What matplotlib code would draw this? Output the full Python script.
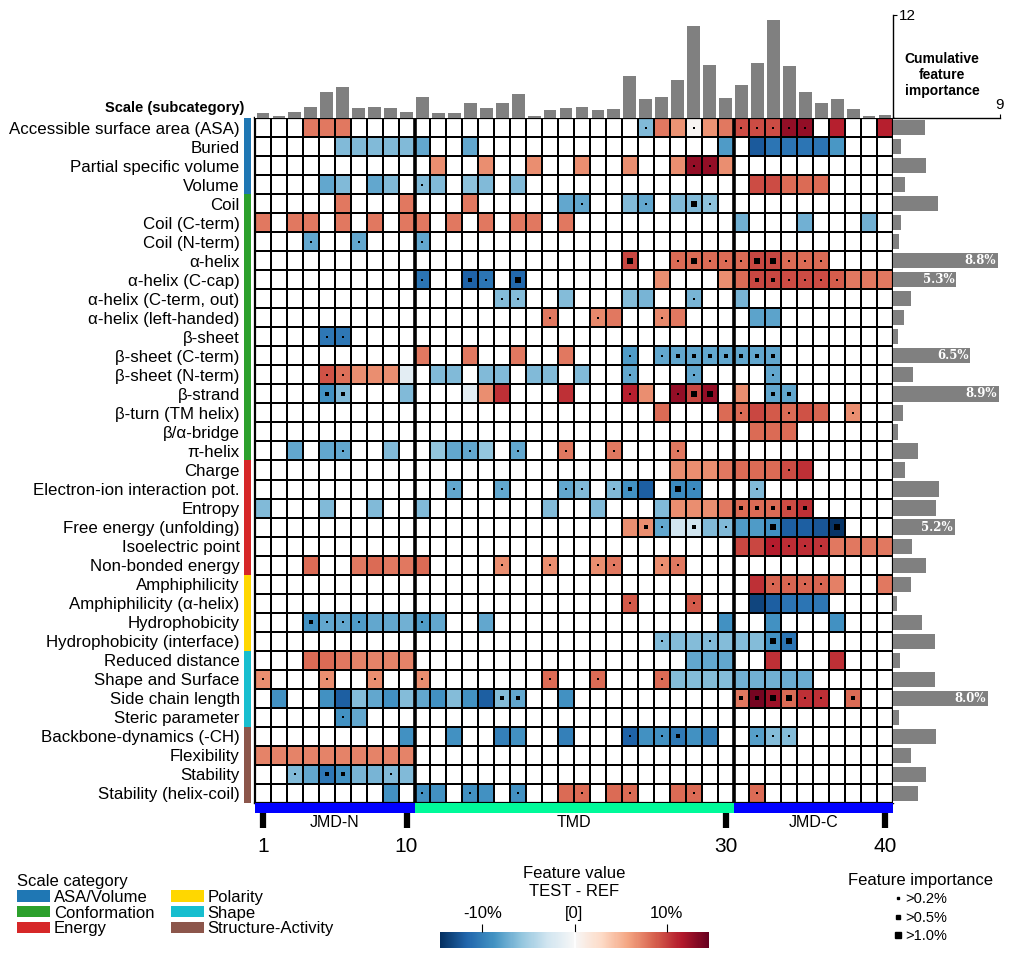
#!/usr/bin/env python3
"""
CPP feature map: feature values per scale subcategory and residue position,
with cumulative feature importance per position (top) and per scale (right).
"""

import numpy as np
import matplotlib
matplotlib.use("Agg")
import matplotlib.pyplot as plt
from matplotlib.patches import Patch
from matplotlib.lines import Line2D

plt.rcParams['font.family'] = ['Liberation Sans', 'DejaVu Sans']

# ---------------------------------------------------------------- data
scale_names = [
    "Accessible surface area (ASA)", "Buried", "Partial specific volume", "Volume",
    "Coil", "Coil (C-term)", "Coil (N-term)", "α-helix", "α-helix (C-cap)",
    "α-helix (C-term, out)", "α-helix (left-handed)", "β-sheet", "β-sheet (C-term)",
    "β-sheet (N-term)", "β-strand", "β-turn (TM helix)", "β/α-bridge", "π-helix",
    "Charge", "Electron-ion interaction pot.", "Entropy", "Free energy (unfolding)",
    "Isoelectric point", "Non-bonded energy",
    "Amphiphilicity", "Amphiphilicity (α-helix)", "Hydrophobicity", "Hydrophobicity (interface)",
    "Reduced distance", "Shape and Surface", "Side chain length", "Steric parameter",
    "Backbone-dynamics (-CH)", "Flexibility", "Stability", "Stability (helix-coil)",
]
scale_categories = (["ASA/Volume"] * 4 + ["Conformation"] * 14 + ["Energy"] * 6
                    + ["Polarity"] * 4 + ["Shape"] * 4 + ["Structure-Activity"] * 4)
category_names = ["ASA/Volume", "Conformation", "Energy", "Polarity", "Shape", "Structure-Activity"]
category_colors = ["#1f77b4", "#2ca02c", "#d62728", "#ffd700", "#17becf", "#8c564b"]

part_names = ["JMD-N", "TMD", "JMD-C"]
part_lengths = [10, 20, 10]
part_colors = ["#0000ff", "#00fa9a", "#0000ff"]
position_ticks = [1, 10, 30, 40]

# cumulative feature importance per position (%)
position_importance = [0.58, 0.23, 0.7, 1.28, 3.03, 3.6, 1.17, 1.28, 1.17, 0.7,
                       2.45, 0.58, 0.58, 1.75, 1.17, 1.75, 2.8, 0.23, 0.93, 1.17,
                       1.28, 0.93, 1.05, 4.9, 2.2, 2.45, 4.43, 10.7, 6.2, 2.33,
                       3.85, 6.4, 11.4, 6.06, 3.03, 1.75, 2.2, 1.05, 0.23, 0.35]
# cumulative feature importance per scale (%)
scale_importance = [2.7, 0.66, 2.8, 1.0, 3.77, 0.66, 0.49, 8.8, 5.3, 1.5, 0.9, 0.4,
                    6.5, 1.7, 8.9, 0.8, 0.4, 2.1, 1.0, 3.9, 3.6, 5.2, 1.6, 2.8,
                    1.5, 0.3, 2.4, 3.5, 0.57, 3.5, 8.0, 0.5, 3.6, 1.5, 2.8, 2.1]

# feature value (TEST - REF, %) per scale: {position: value}
feature_values = [
    {4: 7.7, 5: 7.7, 6: 7.7, 25: -6.5, 26: 7.7, 27: 6.6, 28: 0.3, 29: 6.6, 30: 7.7,
     31: 9.5, 32: 9.5, 33: 9.5, 34: 12.8, 35: 12.8, 37: 11.3, 40: 11.3},
    {6: -6.5, 7: -6.5, 8: -6.5, 9: -6.5, 10: -6.5, 11: -7.6, 14: -7.6, 30: -8.3,
     32: -12.3, 33: -10.7, 34: -10.7, 35: -10.7, 36: -10.7, 37: -8.5},
    {12: 6.8, 15: 6.8, 18: 6.8, 21: 6.8, 24: 6.8, 27: 6.8, 28: 12.8, 29: 12.8, 30: 6.8},
    {5: -7.6, 6: -6.5, 8: -7.6, 9: -6.5, 11: -6.5, 12: -6.5, 14: -6.0, 15: -6.5, 17: -6.5,
     32: 9.5, 33: 9.5, 34: 8.3, 35: 8.3, 36: 8.3},
    {6: 7.7, 10: 7.7, 14: 7.7, 20: -7.6, 21: -7.6, 24: -6.5, 25: -7.6, 27: -6.5, 28: -6.5, 29: -6.0},
    {1: 7.7, 3: 7.7, 4: 7.7, 6: 7.7, 8: 7.7, 10: 7.7, 11: 7.7, 13: 7.7, 15: 7.7, 17: 7.7,
     18: 7.7, 20: 7.7, 31: -7.0, 35: -7.0, 39: -7.0},
    {4: -7.6, 7: -7.6, 11: -7.6},
    {24: 9.7, 27: 8.3, 28: 8.3, 29: 8.3, 30: 8.3, 31: 8.3, 32: 9.7, 33: 9.7, 34: 8.3, 35: 8.3, 36: 8.3},
    {11: -10.7, 14: -11.8, 15: -10.7, 17: -11.5, 26: 6.8, 30: 6.8, 31: 8.3, 32: 9.7, 33: 9.7,
     34: 9.5, 35: 9.5, 36: 9.5, 37: 8.8, 38: 7.7, 39: 7.7, 40: 7.7},
    {16: -6.3, 17: -6.3, 20: -6.3, 24: -6.3, 25: -6.8, 28: -6.8, 31: -6.8},
    {19: 7.7, 22: 7.0, 23: 7.7, 26: 7.0, 27: 7.7, 32: -7.8, 33: -7.8},
    {5: -10.5, 6: -10.5},
    {11: 7.7, 14: 7.7, 17: 7.7, 20: 7.7, 24: -8.3, 26: -7.6, 27: -7.6, 28: -7.6, 29: -7.6,
     30: -7.6, 31: -7.6, 32: -7.6, 33: -7.6},
    {5: 9.3, 6: 8.0, 7: 6.8, 8: 6.8, 9: 6.8, 10: -1.5, 12: -6.5, 13: -6.5, 15: -6.5, 16: -6.5,
     18: -6.5, 19: -6.5, 21: -6.5, 24: -7.6, 28: -7.6, 33: -7.6},
    {5: -8.8, 6: -6.5, 10: -6.5, 14: -1.5, 15: 6.8, 16: 10.7, 20: 10.7, 24: 11.3, 25: 6.8,
     27: 12.8, 28: 9.7, 29: 12.8, 31: 6.8, 33: -7.6, 34: -7.6},
    {26: 8.3, 30: 8.3, 31: 8.3, 32: 9.7, 33: 9.0, 34: 8.3, 35: 9.3, 36: 8.5, 38: 6.8},
    {32: 8.3, 33: 8.3, 34: 8.3},
    {3: -7.6, 5: -7.6, 6: -7.6, 9: -6.5, 12: -5.8, 13: -7.6, 14: -7.6, 15: -5.8, 17: -7.6,
     20: 7.7, 23: 7.7, 27: 7.7},
    {27: 6.8, 28: 6.8, 29: 6.8, 30: 7.7, 31: 8.3, 32: 8.3, 33: 8.3, 34: 9.5, 35: 10.7},
    {13: -7.6, 16: -7.6, 20: -7.6, 21: -6.5, 23: -6.5, 24: -8.8, 25: -12.0, 27: -9.3, 28: -9.3, 32: -6.5},
    {1: -6.5, 5: -6.5, 8: -6.5, 11: -6.5, 19: -6.5, 22: -6.5, 26: -6.5, 27: 6.8, 28: 6.8, 29: 6.8,
     30: 7.7, 31: 8.3, 32: 8.3, 33: 8.3, 34: 9.5, 35: 10.7},
    {24: 6.8, 25: 6.8, 26: -7.6, 27: -2.9, 28: -2.9, 29: -6.5, 30: -6.5, 31: -8.3, 32: -8.3,
     33: -9.0, 34: -12.0, 35: -12.0, 36: -12.5, 37: -14.3},
    {31: 9.7, 32: 9.7, 33: 11.5, 34: 10.8, 35: 10.8, 36: 10.5, 37: 7.7, 38: 7.7, 39: 7.7, 40: 7.7},
    {4: 8.3, 7: 7.7, 8: 8.3, 9: 7.7, 10: 7.7, 11: 8.3, 16: 6.8, 19: 6.8, 22: 6.8, 23: 7.7, 26: 6.8, 27: 7.7},
    {32: 10.7, 33: 8.5, 34: 8.5, 35: 8.5, 36: 8.5, 37: 7.4, 40: 7.7},
    {24: 9.0, 28: 9.0, 32: -13.4, 33: -12.0, 34: -10.7, 35: -10.7, 36: -10.5},
    {4: -8.8, 5: -7.6, 6: -7.6, 7: -8.3, 8: -7.6, 9: -7.6, 10: -7.0, 11: -8.3, 12: -7.6, 15: -7.6,
     30: -8.8, 33: -8.8, 37: -8.8},
    {26: -6.5, 27: -6.3, 28: -6.3, 29: -6.5, 30: -6.3, 31: -6.3, 32: -6.3, 33: -8.8, 34: -10.7},
    {4: 8.3, 5: 8.3, 6: 7.7, 7: 7.2, 8: 7.2, 9: 7.2, 10: 7.2, 28: -7.6, 29: -7.6, 30: -7.6, 33: 10.7, 37: 10.7},
    {1: 6.8, 5: 6.8, 8: 6.8, 11: 6.8, 19: 8.3, 22: 8.3, 26: 8.3, 27: -6.3, 28: -6.3, 29: -6.3,
     30: -6.3, 31: -7.0, 32: -7.0, 33: -7.0, 34: -7.3, 35: -7.3},
    {2: -8.8, 5: -8.8, 6: -12.0, 7: -6.3, 8: -7.6, 9: -8.8, 10: -6.3, 11: -7.6, 12: -8.8, 13: -6.3,
     14: -8.8, 15: -12.0, 16: -6.3, 17: -7.6, 20: -8.8, 31: 7.7, 32: 14.0, 33: 12.5, 34: 8.3,
     35: 10.7, 36: 10.7, 38: 8.3},
    {6: -8.8, 7: -7.6},
    {10: -8.8, 13: -8.8, 16: -10.0, 17: -8.8, 20: -10.0, 24: -11.8, 25: -8.8, 26: -8.8, 27: -10.3,
     28: -8.8, 29: -10.0, 32: -8.0, 33: -6.3, 34: -6.3},
    {1: 7.2, 2: 7.2, 3: 7.2, 4: 7.2, 5: 7.2, 6: 7.2, 7: 7.2, 8: 7.2, 9: 7.2, 10: 7.2},
    {3: -6.5, 4: -7.6, 5: -10.5, 6: -8.8, 7: -6.8, 8: -6.8, 9: -6.5, 10: -6.5},
    {9: -8.8, 11: -8.8, 12: -8.8, 14: -8.8, 15: -8.8, 17: -8.8, 20: 8.3, 21: 8.3, 23: 8.3,
     24: 8.3, 27: 8.3, 28: 8.3, 32: 8.3},
]

# feature importance (%) per scale: {position: importance}
feature_importance = [
    {25: .3, 28: .3, 31: .3, 32: .3, 33: .3, 34: .3, 35: .3},
    {},
    {28: .3, 29: .3},
    {11: .3},
    {21: .3, 25: .3, 28: 1.2, 29: .3},
    {},
    {4: .3, 7: .3, 11: .3},
    {24: 1.2, 27: .3, 28: 1.2, 29: .3, 30: .3, 31: .3, 32: 1.2, 33: 1.2, 34: .3, 35: .3, 36: .3},
    {11: .3, 14: .8, 15: .3, 17: 1.2, 32: .6, 33: .6, 34: .3, 35: .3, 36: .3, 37: .3},
    {16: .3, 17: .3, 28: .3},
    {19: .3, 22: .3, 26: .3},
    {5: .3, 6: .3},
    {24: .3, 26: .3, 27: .6, 28: .6, 29: .6, 30: .6, 31: .6, 32: .6, 33: .6},
    {5: .3, 6: .3, 24: .3, 28: .3, 33: .3},
    {5: .7, 6: .7, 24: .3, 27: .3, 28: 1.2, 29: 1.2, 33: .6, 34: .6},
    {31: .3, 34: .3, 38: .3},
    {},
    {6: .3, 14: .3, 17: .3, 20: .3, 23: .3, 27: .3},
    {34: .3},
    {13: .3, 16: .3, 20: .3, 21: .3, 23: .3, 24: .6, 27: 1.2, 28: .3, 32: .3},
    {31: .6, 32: .6, 33: .6, 34: .6, 35: .6},
    {25: .6, 26: .3, 28: .6, 30: .3, 33: 1.2, 37: 1.2},
    {33: .3, 34: .3, 35: .3, 36: .3},
    {16: .3, 19: .3, 22: .3, 23: .3, 26: .3, 27: .3},
    {33: .3, 34: .3, 35: .3, 36: .3},
    {24: .3, 28: .3},
    {4: .6, 5: .3, 6: .3, 7: .3, 11: .3},
    {26: .3, 29: .3, 33: 1.2, 34: 1.2},
    {},
    {1: .3, 5: .3, 8: .3, 11: .3, 19: .3, 22: .3, 26: .3},
    {16: .8, 17: .8, 31: .6, 32: .6, 33: 1.2, 34: 1.2, 35: .3, 36: .3, 38: .6},
    {6: .3},
    {24: .3, 26: .3, 27: .6, 32: .3, 33: .3, 34: .3},
    {},
    {3: .3, 5: .8, 6: .8, 9: .3},
    {11: .3, 14: .3, 17: .3, 21: .3, 24: .3, 28: .3, 32: .3},
]

importance_levels = [0.2, 0.5, 1.0]
importance_sizes = [3, 8, 18]
value_limit = 14.6

# ---------------------------------------------------------------- layout helpers
W, H = 1014, 958


def px_rect(x0, y0, x1, y1):
    """Axes rectangle from pixel box (origin top-left)."""
    return [x0 / W, 1 - y1 / H, (x1 - x0) / W, (y1 - y0) / H]


n_rows, n_pos = len(scale_names), sum(part_lengths)
values = np.zeros((n_rows, n_pos))
for r, row in enumerate(feature_values):
    for p, v in row.items():
        values[r, p - 1] = v
values = np.ma.masked_equal(values, 0)

cmap = plt.get_cmap("RdBu_r").copy()
cmap.set_bad("white")

fig = plt.figure(figsize=(W / 100, H / 100), dpi=100)

# main heatmap
ax = fig.add_axes(px_rect(255, 118, 893, 803))
mesh = ax.pcolormesh(np.arange(n_pos + 1), np.arange(n_rows + 1), values, cmap=cmap,
                     vmin=-value_limit, vmax=value_limit, edgecolors="black", linewidth=1.4)
ax.set_xlim(0, n_pos)
ax.set_ylim(n_rows, 0)
bounds = np.cumsum(part_lengths)[:-1]
ax.vlines(bounds, 0, n_rows, color="black", linewidth=2.6)
for spine in ax.spines.values():
    spine.set_linewidth(1.6)
ax.set_xticks([])
ax.set_yticks(np.arange(n_rows) + 0.5)
ax.set_yticklabels(scale_names, fontsize=12.2)
ax.tick_params(axis="y", length=0, pad=11)

for r, row in enumerate(feature_importance):
    for p, imp in row.items():
        level = sum(imp > t for t in importance_levels)
        if level:
            ax.scatter(p - 0.5, r + 0.5, s=importance_sizes[level - 1], marker="s",
                       color="black", linewidths=0, zorder=5)

ax.text(-0.65, -0.55, "Scale (subcategory)", fontsize=10.5, fontweight="bold",
        ha="right", va="center", transform=ax.transData)

# category strip
ax_cat = fig.add_axes(px_rect(244, 118, 251, 803))
cat_color = [category_colors[category_names.index(c)] for c in scale_categories]
ax_cat.barh(np.arange(n_rows) + 0.5, 1, height=1.0, color=cat_color, linewidth=0)
ax_cat.set_xlim(0, 1)
ax_cat.set_ylim(n_rows, 0)
ax_cat.axis("off")

# top: cumulative importance per position
ax_top = fig.add_axes(px_rect(255, 15, 893, 118))
ax_top.bar(np.arange(n_pos) + 0.5, position_importance, width=0.8, color="#808080")
ax_top.set_xlim(0, n_pos)
ax_top.set_ylim(0, 12)
for side in ["top", "left", "bottom"]:
    ax_top.spines[side].set_visible(False)
ax_top.spines["right"].set_linewidth(1.0)
ax_top.set_xticks([])
ax_top.yaxis.tick_right()
ax_top.set_yticks([12])
ax_top.tick_params(axis="y", labelsize=11, length=3, pad=1)

# right: cumulative importance per scale
ax_right = fig.add_axes(px_rect(893, 118, 1000, 803))
ax_right.barh(np.arange(n_rows) + 0.5, scale_importance, height=0.8, color="#808080")
ax_right.set_xlim(0, 9)
ax_right.set_ylim(n_rows, 0)
for side in ["right", "left", "bottom"]:
    ax_right.spines[side].set_visible(False)
ax_right.spines["top"].set_linewidth(1.0)
ax_right.set_yticks([])
ax_right.xaxis.tick_top()
ax_right.set_xticks([9])
ax_right.tick_params(axis="x", labelsize=11, length=3, pad=1)
for r, v in enumerate(scale_importance):
    if v > 5:
        ax_right.text(min(v, 9) - 0.15, r + 0.5, f"{v:.1f}%", color="white", fontsize=8.5,
                      fontweight="bold", family="DejaVu Serif", ha="right", va="center")
fig.text(942 / W, 1 - 75 / H, "Cumulative\nfeature\nimportance", fontsize=10,
         fontweight="bold", ha="center", va="center", linespacing=1.15)

# bottom: JMD / TMD bar and positions
ax_part = fig.add_axes(px_rect(255, 803, 893, 813))
starts = np.concatenate([[0], np.cumsum(part_lengths)[:-1]])
ax_part.bar(starts, 1, width=part_lengths, align="edge", color=part_colors, linewidth=0)
ax_part.set_xlim(0, n_pos)
ax_part.set_ylim(0, 1)
for spine in ax_part.spines.values():
    spine.set_visible(False)
ax_part.set_yticks([])
ax_part.set_xticks(np.array(position_ticks) - 0.5)
ax_part.set_xticklabels([str(t) for t in position_ticks], fontsize=15)
ax_part.tick_params(axis="x", length=11, width=4.5, pad=6)
for name, s, n in zip(part_names, starts, part_lengths):
    ax_part.text(s + n / 2, -0.95, name, fontsize=11.5, ha="center", va="center",
                 transform=ax_part.get_xaxis_transform())

# legend: scale category
cat_handles = [Patch(facecolor=c, edgecolor="none") for c in category_colors]
fig.legend(cat_handles, category_names, title="Scale category", ncol=2,
           loc="upper left", bbox_to_anchor=(17 / W, 1 - 874 / H), frameon=False,
           fontsize=12, title_fontsize=12, handlelength=2.0, handleheight=0.65,
           handletextpad=0.2, labelspacing=0.05, columnspacing=1.0,
           borderpad=0, borderaxespad=0, alignment="left")

# colorbar
cax = fig.add_axes(px_rect(440, 932, 709, 948))
cb = fig.colorbar(mesh, cax=cax, orientation="horizontal", ticklocation="top")
cb.set_ticks([-10, 0, 10])
cb.set_ticklabels(["-10%", "[0]", "10%"])
cb.outline.set_visible(False)
cax.axvline(0, color="white", linewidth=1.2)
cax.tick_params(labelsize=12, length=6, width=0.8, pad=2)
fig.text(574 / W, 1 - 874 / H, "Feature value", fontsize=12, ha="center", va="center")
fig.text(574 / W, 1 - 891 / H, "TEST - REF", fontsize=12, ha="center", va="center")

# legend: feature importance
imp_handles = [Line2D([], [], marker="s", linestyle="none", color="black",
                      markersize=np.sqrt(s)) for s in importance_sizes]
fig.legend(imp_handles, [f">{t:.1f}%" for t in importance_levels], title="Feature importance",
           loc="upper center", bbox_to_anchor=(921 / W, 1 - 873 / H), frameon=False,
           fontsize=10.5, title_fontsize=12, handlelength=0.5, handletextpad=0.25,
           labelspacing=0.3, borderpad=0, borderaxespad=0)

fig.savefig("out.png", dpi=100)
plt.close(fig)
